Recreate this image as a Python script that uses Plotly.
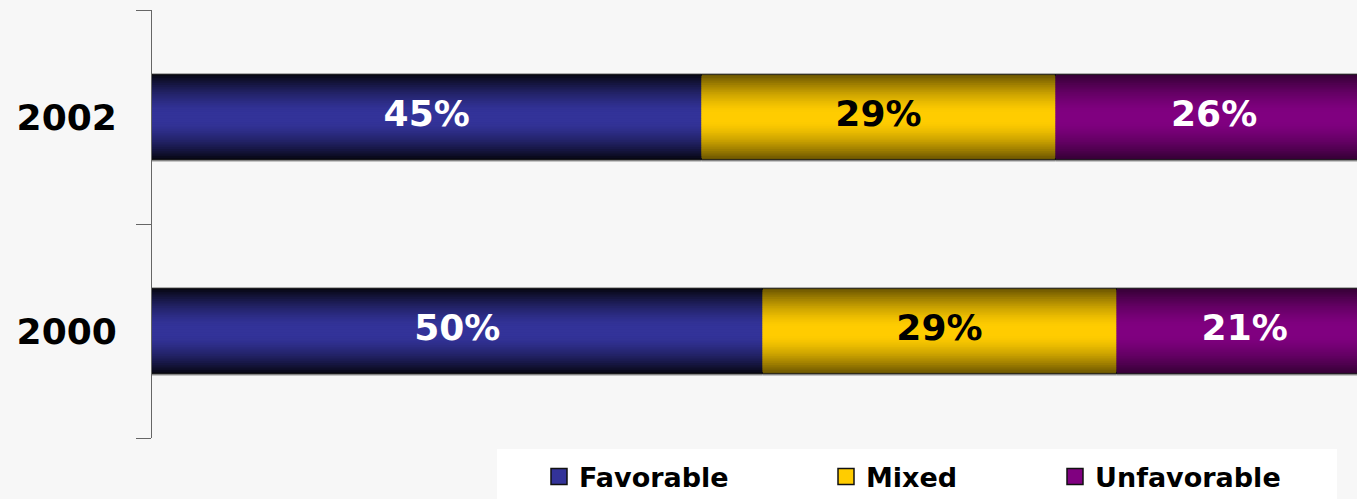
import plotly.graph_objects as go

# Survey results by year (percent of respondents)
years = ["2000", "2002"]
series_names = ["Favorable", "Mixed", "Unfavorable"]
favorable = [50, 45]
mixed = [29, 29]
unfavorable = [21, 26]

values = [favorable, mixed, unfavorable]

# Centre colour of each band and how dark its top/bottom edge gets
center_rgb = [(0x33, 0x33, 0x99), (0xFF, 0xCC, 0x00), (0x80, 0x00, 0x80)]
edge_factor = [0.10, 0.40, 0.40]
label_colors = ["white", "black", "white"]

BAR_W = 0.40
N_LAYERS = 24
FONT = "DejaVu Sans"


def shade(rgb, k, edge):
    # k: 0 at the outer edge of the bar, N_LAYERS-1 at its centre
    t = 1 - (k + 0.5) / N_LAYERS
    if t <= 0.1:
        f = 1.0
    else:
        f = edge + (1 - edge) * (1 - ((t - 0.1) / 0.9) ** 1.5)
    r, g, b = (int(round(c * f)) for c in rgb)
    return f"rgb({r},{g},{b})"


# stacked bases per series
bases = []
running = [0] * len(years)
for vals in values:
    bases.append(list(running))
    running = [a + b for a, b in zip(running, vals)]

fig = go.Figure()

# flattened arrays: one bar per (series, year)
ys, xs, bs = [], [], []
for s, vals in enumerate(values):
    for i, yr in enumerate(years):
        ys.append(yr)
        xs.append(vals[i])
        bs.append(bases[s][i])

# soft drop shadow under the bars
fig.add_trace(go.Bar(
    y=ys, x=xs, base=bs, orientation="h",
    width=BAR_W, offset=-BAR_W / 2 - 0.009,
    marker=dict(color="#b5b5b5", line=dict(width=0)),
    showlegend=False, hoverinfo="skip",
))

# vertical gradient built from nested bars of shrinking thickness
for k in range(N_LAYERS):
    w = BAR_W * (1 - k / N_LAYERS)
    colors = []
    for s in range(len(values)):
        colors += [shade(center_rgb[s], k, edge_factor[s])] * len(years)
    fig.add_trace(go.Bar(
        y=ys, x=xs, base=bs, orientation="h", width=w,
        marker=dict(color=colors,
                    line=dict(width=1 if k == 0 else 0, color="#111111")),
        showlegend=False, hoverinfo="skip",
    ))

# percentage labels centred on each segment
for s, vals in enumerate(values):
    fig.add_trace(go.Scatter(
        y=years,
        x=[bases[s][i] + vals[i] / 2 for i in range(len(years))],
        mode="text",
        text=[f"{v}%" for v in vals],
        textposition="middle center",
        textfont=dict(family=FONT, size=36, color=label_colors[s], weight="bold"),
        showlegend=False, hoverinfo="skip",
    ))

# legend entries
legend_widths = [242, 184, 184]
for s, name in enumerate(series_names):
    r, g, b = center_rgb[s]
    fig.add_trace(go.Scatter(
        x=[None], y=[None], mode="markers", name=name,
        marker=dict(symbol="square", size=20, color=f"rgb({r},{g},{b})",
                    line=dict(width=1.5, color="#111111")),
        legendwidth=legend_widths[s],
    ))

fig.update_layout(
    width=1357, height=499,
    margin=dict(l=152, r=0, t=10, b=61, autoexpand=False),
    paper_bgcolor="#f7f7f7", plot_bgcolor="#f7f7f7",
    barmode="overlay",
    showlegend=True,
    legend=dict(
        orientation="h", x=(539 - 152) / 1205, xanchor="left",
        y=(438 - 477) / 428, yanchor="middle",
        bgcolor="rgba(0,0,0,0)",
        font=dict(family=FONT, size=27, color="black", weight="bold"),
        itemclick=False, itemdoubleclick=False,
    ),
    shapes=[dict(
        type="rect", xref="paper", yref="paper",
        x0=(497 - 152) / 1205, x1=(1337 - 152) / 1205,
        y0=(438 - 505) / 428, y1=(438 - 449) / 428,
        fillcolor="white", line=dict(width=0), layer="below",
    )],
    xaxis=dict(range=[0, 98.7], visible=False, showgrid=False, zeroline=False),
    yaxis=dict(
        type="category", categoryorder="array", categoryarray=years,
        range=[-0.5, 1.5], tickson="boundaries",
        ticks="outside", ticklen=15, tickcolor="#666666", tickwidth=1,
        showline=True, linecolor="#666666", linewidth=1,
        showgrid=False, zeroline=False,
        tickfont=dict(family=FONT, size=36, color="black", weight="bold"),
        ticklabelstandoff=27,
    ),
)

fig.write_html("out.html")
